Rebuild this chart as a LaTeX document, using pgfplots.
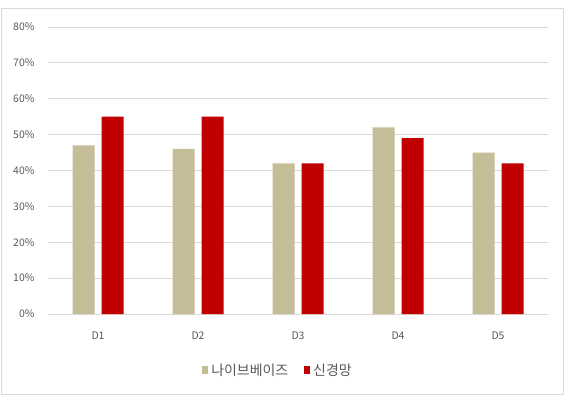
\documentclass[border=0pt]{standalone}
\usepackage{pgfplots}
\pgfplotsset{compat=1.18}
\usepackage{fontspec}
\setmainfont{Noto Sans CJK KR}
\definecolor{tanc}{HTML}{C4BD97}
\definecolor{redc}{HTML}{C00000}
\definecolor{txt}{HTML}{595959}
\definecolor{gridc}{HTML}{D9D9D9}
\begin{document}
\begin{tikzpicture}[x=1bp,y=1bp]
\path (0,0) rectangle (566,399);
\draw[gridc, line width=1bp] (1.5,5) rectangle (563,390);
\begin{axis}[
  at={(48bp,85bp)}, anchor=south west,
  scale only axis, width=500bp, height=287bp,
  ybar, bar width=22bp,
  xmin=-0.5, xmax=4.5, ymin=0, ymax=80,
  xtick=data, xticklabels={D1,D2,D3,D4,D5},
  ytick={0,10,...,80},
  yticklabel={\pgfmathprintnumber{\tick}\%},
  /pgf/number format/assume math mode=true,
  ymajorgrids, grid style={gridc, line width=0.8bp},
  axis x line*=bottom, axis y line*=left,
  x axis line style={gridc, line width=0.8bp, -},
  y axis line style={draw=none},
  major tick length=0pt,
  tick label style={font=\fontsize{10.5}{12}\selectfont, text=txt},
  xticklabel style={yshift=-14bp},
  yticklabel style={xshift=-10bp},
  legend style={draw=none, at={(0.46,-0.165)}, anchor=north, legend columns=-1,
    font=\fontsize{14}{16}\selectfont, text=txt, inner sep=0pt,
    /tikz/every odd column/.append style={column sep=1bp},
    /tikz/every even column/.append style={column sep=14bp}},
  legend image code/.code={\fill[#1] (0bp,-4bp) rectangle (6bp,4bp);},
]
\addplot[fill=tanc, draw=none, bar shift=-14.5bp] coordinates {(0,47) (1,46) (2,42) (3,52) (4,45)};
\addplot[fill=redc, draw=none, bar shift=14.5bp] coordinates {(0,55) (1,55) (2,42) (3,49) (4,42)};
\legend{나이브베이즈, 신경망}
\end{axis}
\end{tikzpicture}
\end{document}
